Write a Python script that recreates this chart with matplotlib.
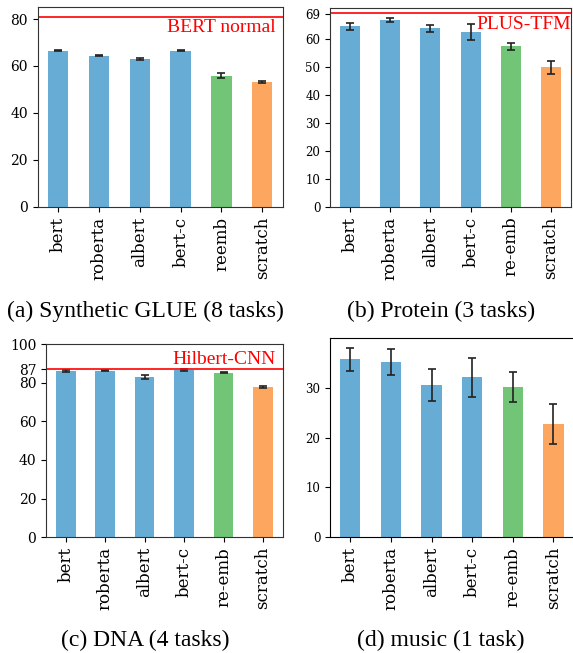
from matplotlib import pyplot as plt
import numpy as np

models = ['bert', 'roberta', 'albert', 'bert-c', 're-emb', 'scratch']
models_a = ['bert', 'roberta', 'albert', 'bert-c', 'reemb', 'scratch']

glue = [66.5, 64.3, 63.0, 66.5, 55.8, 53.2]
glue_err = [0.3, 0.2, 0.6, 0.2, 1.0, 0.3]

protein = [64.5, 66.7, 63.8, 62.4, 57.3, 49.8]
protein_err = [1.2, 0.8, 1.2, 3.0, 1.3, 2.2]

dna = [86.0, 86.1, 82.9, 86.5, 85.2, 77.7]
dna_err = [0.5, 0.3, 0.9, 0.5, 0.2, 0.6]

music = [35.7, 35.1, 30.5, 32.1, 30.1, 22.7]
music_err = [2.3, 2.6, 3.25, 3.9, 2.95, 4.05]

colors = ['#67acd5'] * 4 + ['#72c476', '#fda660']

W, H = 573.0, 653.0
fig = plt.figure(figsize=(W / 100, H / 100), dpi=100)


def make_ax(left, right, top, bottom):
    return fig.add_axes([left / W, 1 - bottom / H, (right - left) / W, (bottom - top) / H])


def panel(ax, names, vals, errs, ylim, yticks, ysize, ref, ref_label, above, pad):
    x = np.arange(len(vals))
    ax.bar(x, vals, width=0.5, color=colors, yerr=errs, capsize=3,
           error_kw=dict(ecolor='#222222', elinewidth=1.2, capthick=1.2))
    ax.set_xlim(-0.5, len(vals) - 0.5)
    ax.set_ylim(*ylim)
    ax.set_yticks(yticks)
    ax.set_xticks(x)
    ax.set_xticklabels(names, rotation=90, fontsize=12, family='DejaVu Serif')
    for lab in ax.get_yticklabels():
        lab.set_family('DejaVu Serif')
        lab.set_fontsize(ysize)
    for s in ax.spines.values():
        s.set_color('#333333')
    if ref is not None:
        ax.axhline(ref, color='red', lw=1.2)
        ax.annotate(ref_label, xy=(1, ref), xycoords=('axes fraction', 'data'),
                    xytext=(-pad, 1 if above else -2), textcoords='offset points',
                    ha='right', va='bottom' if above else 'top', color='red',
                    fontsize=14, family='Liberation Serif')


ax = make_ax(37.7, 282.7, 7.3, 206.7)
panel(ax, models_a, glue, glue_err, (0, 85), [0, 20, 40, 60, 80], 10, 81, 'BERT normal', False, 5)

ax = make_ax(330, 571, 8.3, 206.7)
panel(ax, models, protein, protein_err, (0, 70.9), [0, 10, 20, 30, 40, 50, 60, 69], 8.5, 69.3, 'PLUS-TFM', False, 0)

ax = make_ax(46, 282.7, 344, 537.3)
panel(ax, models, dna, dna_err, (0, 100), [0, 20, 40, 60, 80, 87, 100], 10, 87, 'Hilbert-CNN', True, 5)

ax = make_ax(330, 573.7, 338.3, 537.3)
panel(ax, models, music, music_err, (0, 39.9), [0, 10, 20, 30], 8.5, None, None, False, 0)
for s in ax.spines.values():
    s.set_color('black')

captions = ['(a) Synthetic GLUE (8 tasks)', '(b) Protein (3 tasks)',
            '(c) DNA (4 tasks)', '(d) music (1 task)']
cx = [145, 441, 145, 441]
cy = [311, 311, 640, 640]
for c, x0, y0 in zip(captions, cx, cy):
    fig.text(x0 / W, 1 - y0 / H, c, ha='center', va='center', fontsize=17, family='Liberation Serif')

plt.savefig('out.png', dpi=100)
